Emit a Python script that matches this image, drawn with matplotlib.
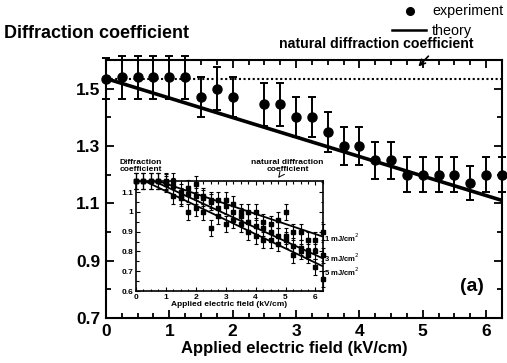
import numpy as np
import matplotlib.pyplot as plt
from matplotlib.ticker import MultipleLocator, FixedLocator

plt.rcParams['font.family'] = ['Liberation Sans', 'DejaVu Sans']

# main panel data
field = [0, 0.25, 0.5, 0.75, 1.0, 1.25, 1.5, 1.75, 2.0, 2.5, 2.75, 3.0, 3.25,
         3.5, 3.75, 4.0, 4.25, 4.5, 4.75, 5.0, 5.25, 5.5, 5.75, 6.0, 6.25]
coef = [1.535, 1.54, 1.54, 1.54, 1.54, 1.54, 1.47, 1.50, 1.47, 1.445, 1.445, 1.40, 1.40,
        1.35, 1.30, 1.30, 1.25, 1.25, 1.20, 1.20, 1.20, 1.20, 1.17, 1.20, 1.20]
coef_err = [0.07, 0.075, 0.075, 0.075, 0.075, 0.075, 0.07, 0.075, 0.07, 0.075, 0.075, 0.07, 0.07,
            0.07, 0.065, 0.065, 0.065, 0.065, 0.06, 0.06, 0.06, 0.06, 0.06, 0.06, 0.06]
theory_x = [0, 6.25]
theory_y = [1.535, 1.11]
natural = 1.535

# inset data
ins_x = [0, 0.25, 0.5, 0.75, 1.0, 1.25, 1.5, 1.75, 2.0, 2.25, 2.5, 2.75, 3.0,
         3.25, 3.5, 3.75, 4.0, 4.25, 4.5, 4.75, 5.0, 5.25, 5.5, 5.75, 6.0, 6.25]
ins_1mj = [1.155, 1.155, 1.155, 1.155, 1.155, 1.155, 1.10, 1.12, 1.14, 1.08, 1.06, 1.06, 1.06,
           1.04, 1.00, 1.00, 1.00, 0.95, 0.94, 0.96, 1.00, 0.90, 0.90, 0.86, 0.86, 0.90]
ins_3mj = [1.155, 1.155, 1.155, 1.155, 1.15, 1.13, 1.08, 1.09, 1.08, 1.07, 1.05, 1.02, 1.03,
           1.00, 0.98, 0.95, 0.93, 0.92, 0.90, 0.88, 0.88, 0.83, 0.82, 0.80, 0.80, 0.78]
ins_5mj = [1.155, 1.155, 1.155, 1.155, 1.14, 1.08, 1.07, 1.00, 1.02, 1.00, 0.92, 0.98, 0.94,
           0.96, 0.94, 0.90, 0.88, 0.86, 0.86, 0.84, 0.86, 0.78, 0.80, 0.78, 0.72, 0.66]
ins_labels = ['1 mJ/cm$^2$', '3 mJ/cm$^2$', '5 mJ/cm$^2$']
ins_line_x = [[0, 0.75, 6.25], [0, 0.6, 6.25], [0, 0.3, 6.25]]
ins_line_y = [[1.155, 1.155, 0.875], [1.155, 1.155, 0.765], [1.155, 1.155, 0.725]]

fig = plt.figure(figsize=(5.07, 3.63), dpi=100)
ax = fig.add_axes([0.209, 0.124, 0.781, 0.711])

ax.plot(theory_x, theory_y, color='black', lw=2.6)
ax.plot(theory_x, [natural, natural], color='black', lw=1.5, ls=(0, (1, 1.2)))
ax.errorbar(field, coef, yerr=coef_err, fmt='o', color='black', ms=6.5,
            elinewidth=1.4, capsize=3, capthick=1.4, clip_on=False, zorder=5)

ax.set_xlim(0, 6.25)
ax.set_ylim(0.7, 1.6)
ax.xaxis.set_major_locator(MultipleLocator(1))
ax.xaxis.set_minor_locator(MultipleLocator(0.25))
ax.yaxis.set_major_locator(FixedLocator([0.7, 0.9, 1.1, 1.3, 1.5]))
ax.yaxis.set_minor_locator(MultipleLocator(0.1))
ax.tick_params(which='both', direction='in', top=True, right=True, width=1.3)
ax.tick_params(which='major', length=6, labelsize=12.5, pad=4)
ax.tick_params(which='minor', length=3.5)
for lab in ax.get_xticklabels() + ax.get_yticklabels():
    lab.set_fontweight('bold')
for s in ax.spines.values():
    s.set_linewidth(1.5)
ax.set_xlabel('Applied electric field (kV/cm)', fontsize=12, fontweight='bold')
ax.xaxis.set_label_coords(0.475, -0.09)

fig.text(0.008, 0.907, 'Diffraction coefficient', fontsize=13, fontweight='bold', va='center')
fig.text(0.852, 0.970, 'experiment', fontsize=10.3, va='center')
fig.text(0.852, 0.915, 'theory', fontsize=10.3, va='center')
fig.lines.append(plt.Line2D([0.809], [0.970], marker='o', color='black', ms=5.5,
                            transform=fig.transFigure))
fig.lines.append(plt.Line2D([0.773, 0.840], [0.917, 0.917], color='black', lw=1.8,
                            transform=fig.transFigure))
fig.text(0.742, 0.880, 'natural diffraction coefficient', fontsize=10.2, fontweight='bold',
         ha='center', va='center')
ax.annotate('', xy=(4.9, natural + 0.035), xytext=(5.12, 1.62),
            arrowprops=dict(arrowstyle='->', color='black', lw=1.2), annotation_clip=False)
ax.text(5.78, 0.81, '(a)', fontsize=14, fontweight='bold', ha='center', va='center')

# inset
ins = fig.add_axes([0.268, 0.198, 0.369, 0.303])
for lx, ly in zip(ins_line_x, ins_line_y):
    ins.plot(lx, ly, color='black', lw=1.3)
for ys in (ins_1mj, ins_3mj, ins_5mj):
    ins.errorbar(ins_x, ys, yerr=0.04, fmt='s', color='black', ms=2.6,
                 elinewidth=0.8, capsize=1.2, capthick=0.8, clip_on=False, zorder=5)
ins.set_xlim(0, 6.25)
ins.set_ylim(0.6, 1.155)
ins.xaxis.set_major_locator(MultipleLocator(1))
ins.xaxis.set_minor_locator(MultipleLocator(0.25))
ins.set_yticks([0.6, 0.7, 0.8, 0.9, 1.0, 1.1])
ins.set_yticklabels(['0.6', '0.7', '0.8', '0.9', '1', '1.1'])
ins.yaxis.set_minor_locator(MultipleLocator(0.05))
ins.tick_params(which='both', direction='in', top=True, right=True, width=0.8)
ins.tick_params(which='major', length=3, labelsize=6, pad=2)
ins.tick_params(which='minor', length=1.8)
for lab in ins.get_xticklabels() + ins.get_yticklabels():
    lab.set_fontweight('bold')
for s in ins.spines.values():
    s.set_linewidth(1.2)
ins.set_xlabel('Applied electric field (kV/cm)', fontsize=6, fontweight='bold', labelpad=0)
ins.text(-0.55, 1.232, 'Diffraction\ncoefficient', fontsize=6, fontweight='bold',
         ha='left', va='center', linespacing=0.95)
ins.text(5.07, 1.232, 'natural diffraction\ncoefficient', fontsize=6, fontweight='bold',
         ha='center', va='center', linespacing=0.95)
ins.annotate('', xy=(4.7, 1.16), xytext=(4.85, 1.19),
             arrowprops=dict(arrowstyle='->', color='black', lw=0.7), annotation_clip=False)
# curve labels sit just right of the inset, spaced apart
for lbl, ty in zip(ins_labels, [0.87, 0.77, 0.70]):
    ins.text(6.3, ty, lbl, fontsize=5.5, fontweight='bold', ha='left', va='center')

fig.savefig('out.png', dpi=100)
